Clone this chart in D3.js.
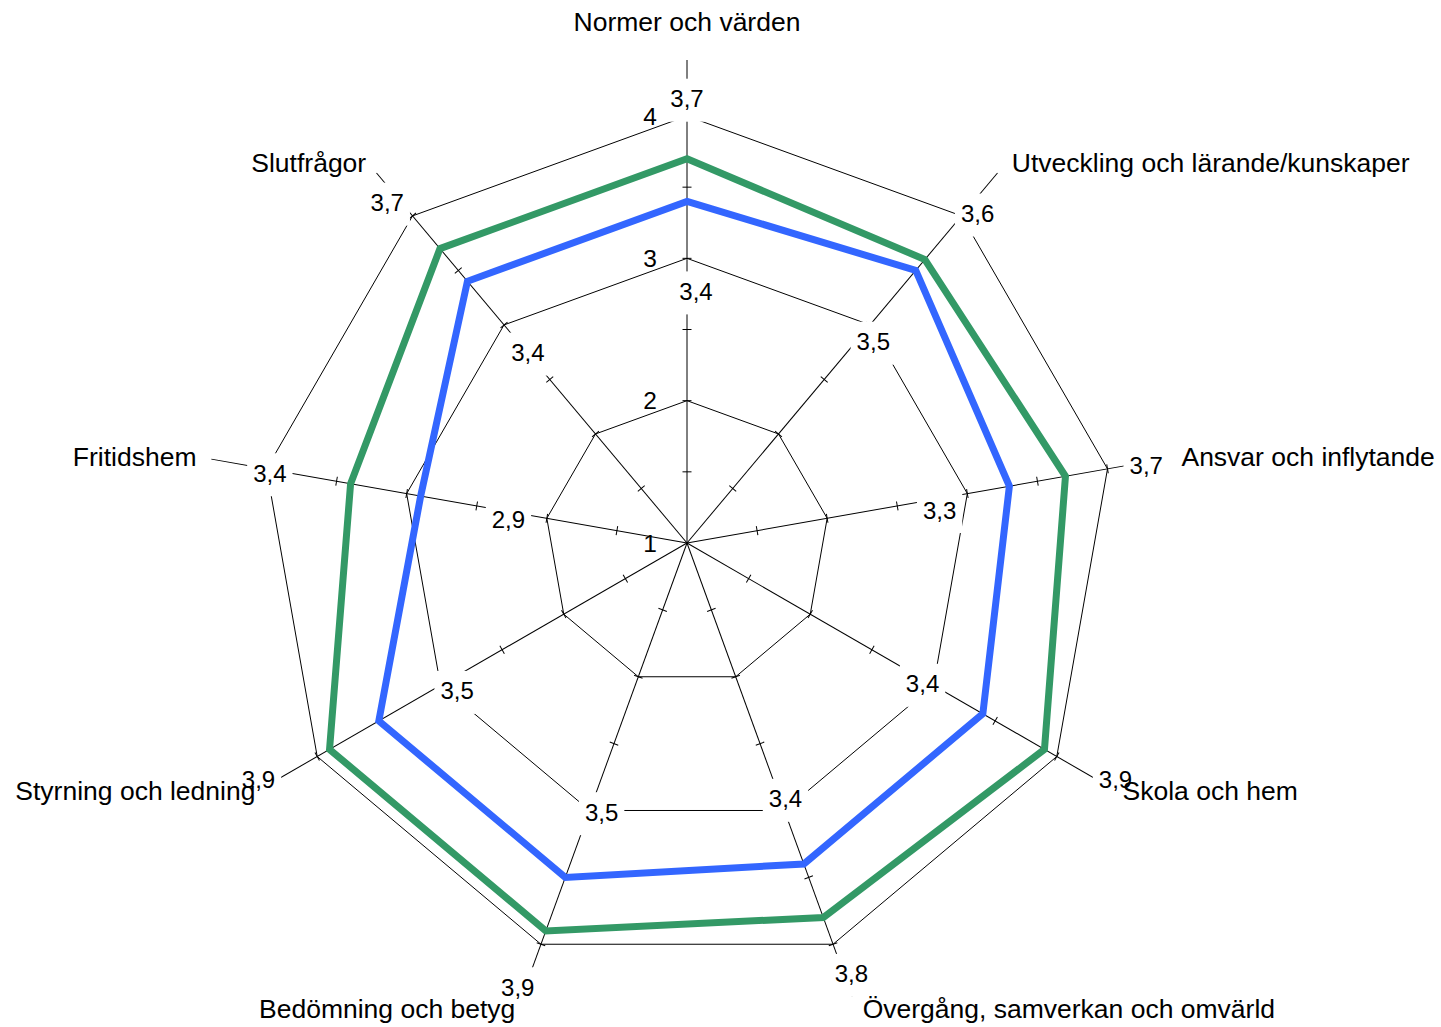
<!DOCTYPE html>
<html>
<head>
<meta charset="utf-8">
<script src="https://cdn.jsdelivr.net/npm/d3@7"></script>
<style>
  body { margin: 0; background: #fff; }
  text { font-family: "Liberation Sans", Arial, sans-serif; fill: #000; }
</style>
</head>
<body>
<script>
const categories = [
  "Normer och värden",
  "Utveckling och lärande/kunskaper",
  "Ansvar och inflytande",
  "Skola och hem",
  "Övergång, samverkan och omvärld",
  "Bedömning och betyg",
  "Styrning och ledning",
  "Fritidshem",
  "Slutfrågor"
];
const greenValues = [3.7, 3.6, 3.7, 3.9, 3.8, 3.9, 3.9, 3.4, 3.7];
const blueValues = [3.4, 3.5, 3.3, 3.4, 3.4, 3.5, 3.5, 2.9, 3.4];
const ringTicks = [1, 2, 3, 4];
const minorTicks = [1.5, 2, 2.5, 3, 3.5, 4];

const width = 1441,
  height = 1027,
  cx = 687,
  cy = 543;

const sv = d3.formatLocale({ decimal: ",", thousands: " ", grouping: [3], currency: ["", " kr"] });
const fmt = sv.format(".1f");

const svg = d3.select("body")
  .append("svg")
  .attr("width", width)
  .attr("height", height);

const g = svg.append("g").attr("transform", `translate(${cx},${cy})`);

const n = categories.length;
const angle = d3.scaleLinear().domain([0, n]).range([0, 2 * Math.PI]);
const r = d3.scaleLinear().domain([1, 4]).range([0, 427]);
const axisEnd = r(4) + 56;

const polar = (rad, i) => [rad * Math.sin(angle(i)), -rad * Math.cos(angle(i))];

const radial = d3.lineRadial()
  .angle((d, i) => angle(i))
  .curve(d3.curveLinearClosed);

// rings
g.selectAll(".ring")
  .data(ringTicks.filter(t => t > 1))
  .enter()
  .append("path")
  .attr("class", "ring")
  .attr("d", t => radial.radius(() => r(t))(categories))
  .attr("fill", "none")
  .attr("stroke", "#000")
  .attr("stroke-width", 1);

// axes with ticks
const axis = g.selectAll(".axis")
  .data(categories)
  .enter()
  .append("g")
  .attr("class", "axis")
  .attr("transform", (d, i) => `rotate(${angle(i) * 180 / Math.PI})`);

axis.append("line")
  .attr("x1", 0).attr("y1", 0)
  .attr("x2", 0).attr("y2", -axisEnd)
  .attr("stroke", "#000")
  .attr("stroke-width", 1);

axis.selectAll(".tick")
  .data(minorTicks)
  .enter()
  .append("line")
  .attr("x1", -4.5).attr("x2", 4.5)
  .attr("y1", t => -r(t)).attr("y2", t => -r(t))
  .attr("stroke", "#000")
  .attr("stroke-width", 1);

// ring numbers
g.selectAll(".ringLabel")
  .data(ringTicks)
  .enter()
  .append("text")
  .attr("x", -30)
  .attr("y", t => -r(t))
  .attr("text-anchor", "end")
  .attr("dominant-baseline", "central")
  .attr("font-size", 24.5)
  .text(t => t);

// value labels with white boxes
function valueLabels(values, cls, pos) {
  const lab = g.selectAll("." + cls)
    .data(values)
    .enter()
    .append("g")
    .attr("class", cls)
    .attr("transform", (v, i) => {
      const p = pos(v, i);
      return `translate(${p[0]},${p[1]})`;
    });
  lab.append("text")
    .attr("text-anchor", "middle")
    .attr("dominant-baseline", "central")
    .attr("font-size", 24)
    .text(v => fmt(v));
  lab.each(function () {
    const b = d3.select(this).select("text").node().getBBox();
    d3.select(this).insert("rect", "text")
      .attr("x", b.x - 6)
      .attr("y", -20)
      .attr("width", b.width + 12)
      .attr("height", 43)
      .attr("fill", "#fff");
  });
}

valueLabels(greenValues, "greenLabel", (v, i) => {
  const p = polar(r(v) + 60, i);
  return [p[0] + 22 * Math.sin(angle(i)), p[1]];
});
valueLabels(blueValues, "blueLabel", (v, i) => {
  const p = polar(r(v) - 80, i);
  return [p[0] + 9, p[1] + 10];
});

// series
const series = [
  { values: greenValues, color: "#339966" },
  { values: blueValues, color: "#3366ff" }
];

g.selectAll(".series")
  .data(series)
  .enter()
  .append("path")
  .attr("class", "series")
  .attr("d", s => radial.radius(v => r(v))(s.values))
  .attr("fill", "none")
  .attr("stroke", s => s.color)
  .attr("stroke-width", 7)
  .attr("stroke-linejoin", "miter");

// category labels
g.selectAll(".catLabel")
  .data(categories)
  .enter()
  .append("text")
  .attr("class", "catLabel")
  .attr("font-size", 26.5)
  .each(function (d, i) {
    const p = polar(496, i);
    const s = Math.sin(angle(i));
    const t = d3.select(this);
    if (Math.abs(s) < 0.01) {
      t.attr("x", p[0]).attr("y", p[1] - 16).attr("text-anchor", "middle");
    } else {
      t.attr("x", p[0] + (s > 0 ? 6 : -2)).attr("y", p[1])
        .attr("text-anchor", s > 0 ? "start" : "end")
        .attr("dominant-baseline", "central");
    }
  })
  .text(d => d);
</script>
</body>
</html>
